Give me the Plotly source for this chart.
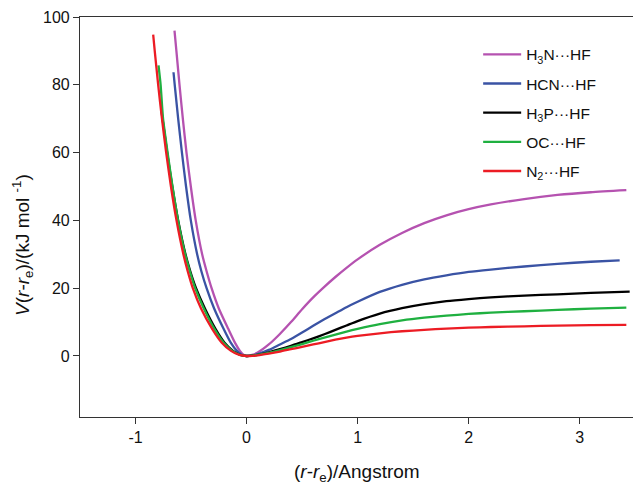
import plotly.graph_objects as go

# Potential energy curves V(r - r_e)
names = ["H<sub>3</sub>N···HF", "HCN···HF", "H<sub>3</sub>P···HF", "OC···HF", "N<sub>2</sub>···HF"]
colors = ["#B552B0", "#3A53A4", "#000000", "#1FB040", "#EC1C24"]

x_h3n = [-0.649, -0.632, -0.604, -0.574, -0.541, -0.502, -0.458, -0.40, -0.36, -0.315, -0.25, -0.165, -0.106, -0.06, -0.025, 0.0,
         0.05, 0.1, 0.2, 0.3, 0.4, 0.5, 0.6, 0.7, 0.8, 0.9, 1.0, 1.2, 1.4, 1.6, 1.8, 2.0, 2.2, 2.5, 2.8, 3.1, 3.42]
y_h3n = [96.0, 90, 80, 70, 60, 50, 40, 30, 25, 20, 14, 8, 4, 1.5, 0.3, 0.0,
         0.3, 1.0, 3.4, 6.5, 10.0, 13.8, 17.3, 20.4, 23.3, 26.0, 28.5, 32.8, 36.3, 39.2, 41.5, 43.3, 44.7, 46.3, 47.5, 48.3, 48.9]

x_hcn = [-0.658, -0.647, -0.616, -0.582, -0.545, -0.502, -0.445, -0.407, -0.36, -0.292, -0.207, -0.144, -0.087, -0.04, 0.0,
         0.05, 0.1, 0.2, 0.3, 0.4, 0.5, 0.6, 0.7, 0.8, 0.9, 1.0, 1.2, 1.4, 1.6, 1.8, 2.0, 2.2, 2.5, 2.8, 3.1, 3.36]
y_hcn = [83.7, 80, 70, 60, 50, 40, 30, 25, 20, 14, 8, 4, 1.5, 0.3, 0.0,
         0.15, 0.55, 1.8, 3.4, 5.0, 6.9, 8.9, 10.8, 12.6, 14.4, 16.0, 18.9, 21.0, 22.6, 23.8, 24.8, 25.5, 26.4, 27.2, 27.8, 28.2]

x_h3p = [-0.769, -0.757, -0.715, -0.669, -0.616, -0.55, -0.507, -0.455, -0.375, -0.28, -0.20, -0.122, -0.055, 0.0,
         0.05, 0.1, 0.2, 0.3, 0.4, 0.5, 0.6, 0.7, 0.8, 0.9, 1.0, 1.2, 1.4, 1.6, 1.8, 2.0, 2.2, 2.5, 2.8, 3.1, 3.45]
y_h3p = [72.9, 70, 60, 50, 40, 30, 25, 20, 14, 8, 4, 1.5, 0.3, 0.0,
         0.1, 0.35, 1.1, 2.0, 3.0, 4.1, 5.2, 6.4, 7.7, 9.0, 10.3, 12.5, 14.1, 15.3, 16.2, 16.8, 17.3, 17.8, 18.2, 18.6, 19.0]

x_oc = [-0.793, -0.774, -0.752, -0.711, -0.667, -0.617, -0.553, -0.511, -0.463, -0.385, -0.29, -0.208, -0.128, -0.058, 0.0,
        0.05, 0.1, 0.2, 0.3, 0.4, 0.5, 0.6, 0.7, 0.8, 0.9, 1.0, 1.2, 1.4, 1.6, 1.8, 2.0, 2.2, 2.5, 2.8, 3.1, 3.42]
y_oc = [85.7, 80, 70, 60, 50, 40, 30, 25, 20, 14, 8, 4, 1.5, 0.3, 0.0,
        0.08, 0.3, 0.9, 1.7, 2.6, 3.5, 4.5, 5.4, 6.3, 7.2, 8.0, 9.4, 10.5, 11.3, 11.9, 12.4, 12.8, 13.2, 13.6, 13.95, 14.25]

x_n2 = [-0.841, -0.827, -0.796, -0.762, -0.724, -0.681, -0.631, -0.569, -0.53, -0.484, -0.41, -0.31, -0.225, -0.14, -0.065, 0.0,
        0.05, 0.1, 0.2, 0.3, 0.4, 0.5, 0.6, 0.7, 0.8, 0.9, 1.0, 1.2, 1.4, 1.6, 1.8, 2.0, 2.2, 2.5, 2.8, 3.1, 3.42]
y_n2 = [94.8, 90, 80, 70, 60, 50, 40, 30, 25, 20, 14, 8, 4, 1.5, 0.3, 0.0,
        0.05, 0.2, 0.7, 1.3, 2.0, 2.7, 3.4, 4.1, 4.8, 5.4, 5.9, 6.7, 7.3, 7.7, 8.1, 8.35, 8.55, 8.75, 8.95, 9.1, 9.2]

x_ticks = [-1, 0, 1, 2, 3]
y_ticks = [0, 20, 40, 60, 80, 100]

series = [(x_h3n, y_h3n), (x_hcn, y_hcn), (x_h3p, y_h3p), (x_oc, y_oc), (x_n2, y_n2)]

fig = go.Figure()
for i, ((xs, ys), name, col) in enumerate(zip(series, names, colors)):
    fig.add_trace(go.Scatter(
        x=xs, y=ys, mode="lines", name=name, legendgroup=f"g{i}",
        line=dict(color=col, width=2.3, shape="spline", smoothing=0.6),
    ))

font_family = "Liberation Sans, Arial, sans-serif"
fig.update_layout(
    width=633, height=486,
    margin=dict(l=80, r=0, t=17, b=69),
    paper_bgcolor="white", plot_bgcolor="white",
    font=dict(family=font_family, size=16, color="#111111"),
    showlegend=True,
    legend=dict(
        x=0.72, y=0.948, xanchor="left", yanchor="top",
        bgcolor="rgba(0,0,0,0)", tracegroupgap=6.0,
        font=dict(size=15.5, family=font_family, color="#111111"),
        itemwidth=38,
    ),
    xaxis=dict(
        range=[-1.5, 3.48], tickvals=x_ticks, ticktext=[str(v) for v in x_ticks],
        showline=True, linecolor="#333333", linewidth=1.2, mirror=True,
        ticks="outside", ticklen=6, tickcolor="#333333", showgrid=False, zeroline=False,
        tickfont=dict(size=16),
    ),
    yaxis=dict(
        range=[-18, 100], tickvals=y_ticks, ticktext=[str(v) for v in y_ticks],
        showline=True, linecolor="#333333", linewidth=1.2,
        ticks="outside", ticklen=6, tickcolor="#333333", showgrid=False, zeroline=False,
        tickfont=dict(size=16),
    ),
    annotations=[
        dict(text="(<i>r</i>-<i>r</i><sub>e</sub>)/Angstrom", xref="paper", yref="paper",
             x=0.5, y=-0.14, xanchor="center", yanchor="middle", showarrow=False,
             font=dict(size=19)),
        dict(text="<i>V</i>(<i>r</i>-<i>r</i><sub>e</sub>)/(kJ mol <sup>-1</sup>)",
             xref="paper", yref="paper", x=-0.105, y=0.43, xanchor="center", yanchor="middle",
             textangle=-90, showarrow=False, font=dict(size=19)),
    ],
)

fig.write_html("out.html", config={"displayModeBar": False},
               post_script="document.body.style.margin='0';")
